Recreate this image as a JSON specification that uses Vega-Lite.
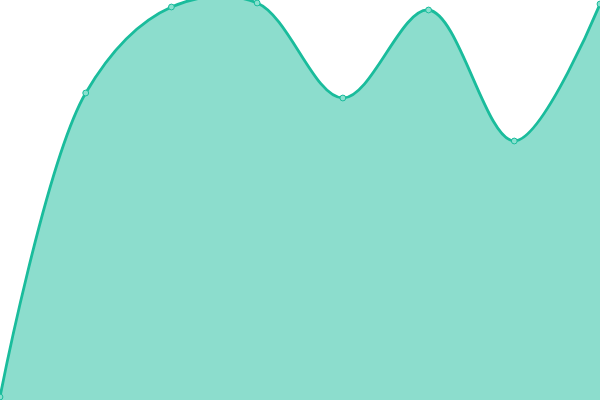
{
  "$schema": "https://vega.github.io/schema/vega-lite/v6.json",
  "width": 600,
  "height": 400,
  "padding": 0,
  "autosize": {"type": "none"},
  "config": {"view": {"stroke": null}},
  "data": {
    "values": [
      {"i": 0, "v": 3},
      {"i": 1, "v": 307},
      {"i": 2, "v": 393},
      {"i": 3, "v": 397},
      {"i": 4, "v": 302},
      {"i": 5, "v": 390},
      {"i": 6, "v": 259},
      {"i": 7, "v": 396}
    ]
  },
  "encoding": {
    "x": {"field": "i", "type": "quantitative", "scale": {"domain": [0, 7], "nice": false, "zero": false}, "axis": null},
    "y": {"field": "v", "type": "quantitative", "scale": {"domain": [0, 400], "nice": false}, "axis": null}
  },
  "layer": [
    {"mark": {"type": "area", "interpolate": "catmull-rom", "color": "#1abc9c", "opacity": 0.5}},
    {"mark": {"type": "line", "interpolate": "catmull-rom", "color": "#1abc9c", "strokeWidth": 2.8}},
    {"mark": {"type": "point", "filled": true, "size": 34, "fill": "#8ae0cf", "stroke": "#1abc9c", "strokeWidth": 1, "opacity": 1}}
  ]
}
